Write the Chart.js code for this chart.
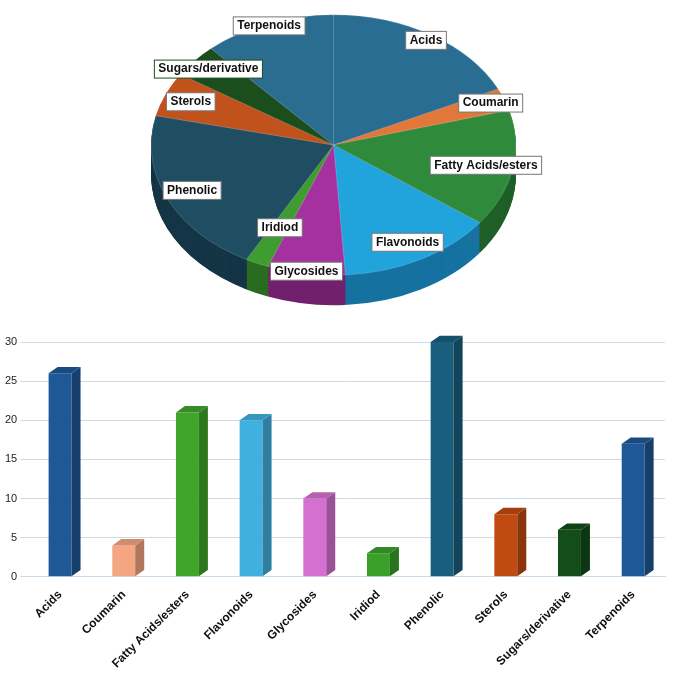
<!DOCTYPE html>
<html>
<head>
<meta charset="utf-8">
<script src="https://cdn.jsdelivr.net/npm/chart.js@4/dist/chart.umd.min.js"></script>
<style>
  body { margin: 0; background: #fff; font-family: "Liberation Sans", Arial, sans-serif; }
  #pieWrap { position: absolute; left: 0; top: 0; width: 685px; height: 310px; }
  #barWrap { position: absolute; left: 0; top: 300px; width: 685px; height: 376px; }
</style>
</head>
<body>
<div id="pieWrap"><canvas id="pieChart"></canvas></div>
<div id="barWrap"><canvas id="barChart"></canvas></div>
<script>
const categories = ["Acids", "Coumarin", "Fatty Acids/esters", "Flavonoids", "Glycosides",
  "Iridiod", "Phenolic", "Sterols", "Sugars/derivative", "Terpenoids"];
const counts = [26, 4, 21, 20, 10, 3, 30, 8, 6, 17];
const yTicks = [0, 5, 10, 15, 20, 25, 30];

const pieColors = ["#2a6d93", "#e2773a", "#2f8a3c", "#21a3dc", "#a5309f",
  "#3e9c30", "#1f4e63", "#c2521c", "#1b4d1d", "#2a6d90"];
const pieSides = ["#1c4a66", "#a65226", "#1f5f28", "#1672a0", "#72206e",
  "#2a6c20", "#143545", "#873812", "#113513", "#1c4a64"];
const barColors = ["#1f5896", "#f4a582", "#3fa52a", "#40b0e0", "#d670d0",
  "#3aa02a", "#1a5e7e", "#c04a10", "#124d1a", "#1f5896"];
const labelRadius = [0.95, 0.92, 0.85, 0.85, 0.98, 0.7, 0.85, 0.85, 0.9, 0.98];

function shade(hex, f) {
  const n = parseInt(hex.slice(1), 16);
  const r = Math.round(((n >> 16) & 255) * f), g = Math.round(((n >> 8) & 255) * f), b = Math.round((n & 255) * f);
  return `rgb(${r},${g},${b})`;
}

// pie squashed into an ellipse with a side wall
const SX = 1.26, SY = 0.9, DEPTH = 30, DX = -9, DY = -10;
const pie3d = {
  id: "pie3d",
  beforeDatasetsDraw(chart) {
    const ctx = chart.ctx;
    const arcs = chart.getDatasetMeta(0).data;
    const cx = arcs[0].x, cy = arcs[0].y;
    ctx.save();
    ctx.translate(cx + DX, cy + DY);
    ctx.scale(SX, SY);
    ctx.translate(-cx, -cy);
    for (let d = DEPTH; d > 0; d -= 1) {
      arcs.forEach((a, i) => {
        ctx.beginPath();
        ctx.moveTo(a.x, a.y + d / SY);
        ctx.arc(a.x, a.y + d / SY, a.outerRadius, a.startAngle, a.endAngle);
        ctx.closePath();
        ctx.fillStyle = pieSides[i];
        ctx.fill();
      });
    }
  },
  afterDatasetsDraw(chart) {
    chart.ctx.restore();
  },
  afterDraw(chart) {
    const ctx = chart.ctx;
    const arcs = chart.getDatasetMeta(0).data;
    ctx.save();
    ctx.font = "bold 12px 'Liberation Sans', Arial, sans-serif";
    ctx.textBaseline = "middle";
    ctx.textAlign = "center";
    arcs.forEach((a, i) => {
      const m = (a.startAngle + a.endAngle) / 2;
      const f = labelRadius[i];
      const x = a.x + DX + SX * a.outerRadius * f * Math.cos(m);
      const y = a.y + DY + SY * a.outerRadius * f * Math.sin(m);
      const t = categories[i];
      const w = ctx.measureText(t).width + 8;
      ctx.fillStyle = "#fff";
      ctx.fillRect(x - w / 2, y - 9, w, 18);
      ctx.strokeStyle = i === 8 ? "#1b4d1d" : "#777";
      ctx.lineWidth = 1;
      ctx.strokeRect(x - w / 2, y - 9, w, 18);
      ctx.fillStyle = "#111";
      ctx.fillText(t, x, y);
    });
    ctx.restore();
  }
};

new Chart(document.getElementById("pieChart"), {
  type: "pie",
  data: {
    labels: categories,
    datasets: [{ data: counts, backgroundColor: pieColors, borderWidth: 0.5, borderColor: "rgba(255,255,255,0.3)", clip: false }]
  },
  options: {
    responsive: true, maintainAspectRatio: false, animation: false,
    layout: { padding: { top: 10, bottom: 10 } },
    plugins: { legend: { display: false }, tooltip: { enabled: false } }
  },
  plugins: [pie3d]
});

// bar chart with side and top faces
const BD = 9;
const bar3d = {
  id: "bar3d",
  afterDatasetsDraw(chart) {
    const ctx = chart.ctx;
    chart.getDatasetMeta(0).data.forEach((b, i) => {
      const l = b.x - b.width / 2, r = b.x + b.width / 2;
      ctx.fillStyle = shade(barColors[i], 0.72);
      ctx.beginPath();
      ctx.moveTo(r, b.y); ctx.lineTo(r + BD, b.y - BD * 0.7);
      ctx.lineTo(r + BD, b.base - BD * 0.7); ctx.lineTo(r, b.base);
      ctx.closePath(); ctx.fill();
      ctx.fillStyle = shade(barColors[i], 0.85);
      ctx.beginPath();
      ctx.moveTo(l, b.y); ctx.lineTo(l + BD, b.y - BD * 0.7);
      ctx.lineTo(r + BD, b.y - BD * 0.7); ctx.lineTo(r, b.y);
      ctx.closePath(); ctx.fill();
    });
  }
};

new Chart(document.getElementById("barChart"), {
  type: "bar",
  data: {
    labels: categories,
    datasets: [{ data: counts, backgroundColor: barColors, barPercentage: 0.36, categoryPercentage: 1 }]
  },
  options: {
    responsive: true, maintainAspectRatio: false, animation: false,
    layout: { padding: { top: 42, right: 20, left: 2, bottom: 2 } },
    plugins: { legend: { display: false }, tooltip: { enabled: false } },
    scales: {
      x: {
        grid: { display: false },
        border: { color: "#c9dbe8" },
        ticks: { color: "#111", maxRotation: 45, minRotation: 45, font: { weight: "bold", size: 12, family: "'Liberation Sans', Arial" } }
      },
      y: {
        min: 0, max: 30,
        afterBuildTicks: s => { s.ticks = yTicks.map(v => ({ value: v })); },
        grid: { color: "#c9dbe8" },
        border: { display: false },
        ticks: { color: "#222", font: { size: 11 } }
      }
    }
  },
  plugins: [bar3d]
});
</script>
</body>
</html>
